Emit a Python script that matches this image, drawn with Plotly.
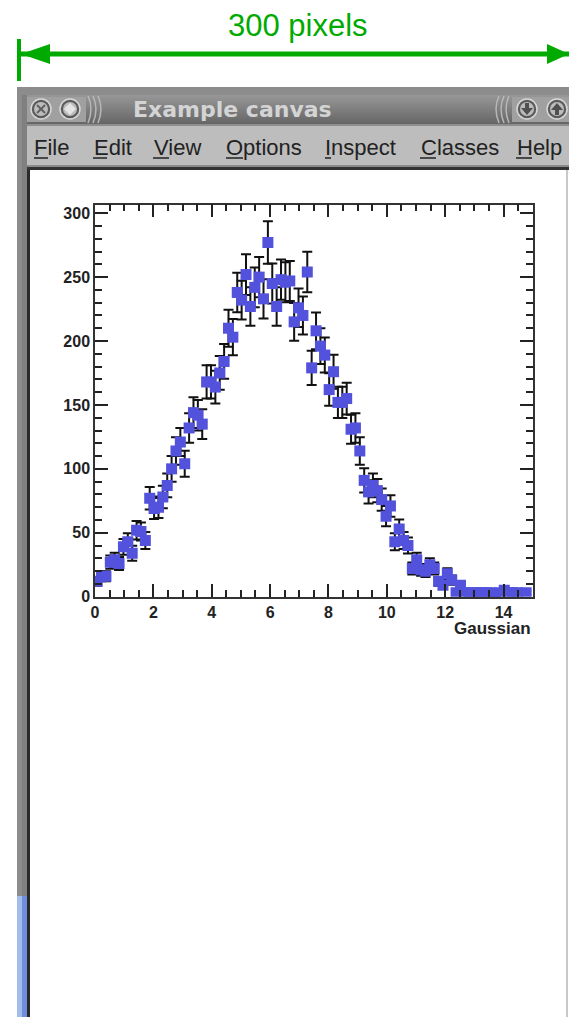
import plotly.graph_objects as go

bin_centres = [0.075,0.225,0.375,0.525,0.675,0.825,0.975,1.125,1.275,1.425,1.575,1.725,1.875,2.025,2.175,2.325,2.475,2.625,2.775,2.925,
3.075,3.225,3.375,3.525,3.675,3.825,3.975,4.125,4.275,4.425,4.575,4.725,4.875,5.025,5.175,5.325,5.475,5.625,5.775,5.925,
6.075,6.225,6.375,6.525,6.675,6.825,6.975,7.125,7.275,7.425,7.575,7.725,7.875,8.025,8.175,8.325,8.475,8.625,8.775,8.925,
9.075,9.225,9.375,9.525,9.675,9.825,9.975,10.125,10.275,10.425,10.575,10.725,10.875,11.025,11.175,11.325,11.475,11.625,11.775,11.925,
12.075,12.225,12.375,12.525,12.675,12.825,12.975,13.125,13.275,13.425,13.575,13.725,13.875,14.025,14.175,14.325,14.475,14.775]
counts = [12,16,16,27,29,26,39,43,34,52,51,44,77,69,70,78,87,100,114,121,
104,132,144,142,135,168,168,164,175,184,210,203,238,232,252,227,242,250,233,277,
245,227,248,246,247,215,226,220,254,179,208,196,189,162,176,152,152,155,131,132,
114,91,82,87,83,76,63,71,43,53,44,40,22,29,21,20,25,22,12,9,
18,13,3,9,3,3,3,3,3,3,3,2,3,5,3,3,3,3]
errors = [3.5,4,4,5.2,5.4,5.1,6.2,6.6,5.8,7.2,7.1,6.6,8.8,8.3,8.4,8.8,9.3,10,10.7,11,
10.2,11.5,12,11.9,11.6,13,13,12.8,13.2,13.6,14.5,14.2,15.4,15.2,15.9,15.1,15.6,15.8,15.3,16.6,
15.7,15.1,15.7,15.7,15.7,14.7,15,14.8,15.9,13.4,14.4,14,13.7,12.7,13.3,12.3,12.3,12.4,11.4,11.5,
10.7,9.5,9.1,9.3,9.1,8.7,7.9,8.4,6.6,7.3,6.6,6.3,4.7,5.4,4.6,4.5,5,4.7,3.5,3,
4.2,3.6,1.7,3,1.7,1.7,1.7,1.7,1.7,1.7,1.7,1.4,1.7,2.2,1.7,1.7,1.7,1.7]
x_ticks = [0,2,4,6,8,10,12,14]
y_ticks = [0,50,100,150,200,250,300]
menu_labels = ["File","Edit","View","Options","Inspect","Classes","Help"]
menu_x = [32,92,152,224,323,419,515]
menu_ul = [(34,48),(93,107),(153,169),(226,243),(325,331),(420,436),(516,532)]

W, H = 569, 1017
L, R, T, B = 95, 532.7, 204.5, 596.7

fig = go.Figure()
fig.add_trace(go.Scatter(x=[], y=[], showlegend=False))
fig.add_trace(go.Scatter(
    x=bin_centres, y=counts, mode="markers", showlegend=False, xaxis="x2", yaxis="y2",
    marker=dict(symbol="square", size=11, color="#5252dc", line=dict(width=0)),
    error_y=dict(type="data", array=errors, color="#111111", thickness=2, width=5),
))

shapes = []
def rect(x0, y0, x1, y1, c):
    shapes.append(dict(type="rect", xref="x", yref="y", x0=x0, y0=y0, x1=x1, y1=y1,
                       fillcolor=c, line=dict(width=0), layer="below"))
def line(x0, y0, x1, y1, c, w):
    shapes.append(dict(type="line", xref="x", yref="y", x0=x0, y0=y0, x1=x1, y1=y1,
                       line=dict(color=c, width=w), layer="below"))
def circ(cx, cy, r, c, lc=None, lw=0):
    shapes.append(dict(type="circle", xref="x", yref="y", x0=cx-r, y0=cy-r, x1=cx+r, y1=cy+r,
                       fillcolor=c, line=dict(width=lw, color=lc or c), layer="below"))
def poly(d, c):
    shapes.append(dict(type="path", xref="x", yref="y", layer="below", path=d, fillcolor=c, line=dict(width=0)))

# window frame
rect(17, 87, W, 1017, "#808080")
rect(17, 87, 22, 1017, "#8c8c8c")
rect(17, 896, 22, 1017, "#a4bcec")
rect(22, 896, 28, 1017, "#6f8fdc")
rect(17, 87, W, 95, "#8c8c8c")
rect(27, 168, 30, 1017, "#2a2a2a")
rect(27, 167, W, 170, "#333333")
rect(30, 170, W, 1017, "#ffffff")
rect(566, 170, 568, 1017, "#c8c8c8")
# title bar gradient
for k in range(29):
    g = 150 - k*50//29
    rect(27, 95+k, W, 96+k, f"rgb({g},{g},{g})")
rect(27, 124, W, 167, "#bdbdbd")
rect(27, 165, W, 167, "#8a8a8a")
rect(27, 124, W, 126, "#8e8e8e")
# button plates behind the round buttons
for x0, x1 in ((27, 86), (512, W)):
    rect(x0, 97, x1, 122, "#a0a0a0")
# window buttons
for cx in (41, 70, 527, 557):
    circ(cx, 109, 10, "#5c5c5c", "#d8d8d8", 1.5)
    circ(cx, 109, 7, "#bcbcbc")
line(37, 105, 45, 113, "#606060", 2)
line(37, 113, 45, 105, "#606060", 2)
poly("M 70 103 L 76 109 L 70 115 L 64 109 Z", "#e4e4e4")
poly("M 527 115 L 521 108 L 525 108 L 525 103 L 529 103 L 529 108 L 533 108 Z", "#505050")
poly("M 557 103 L 551 110 L 555 110 L 555 115 L 559 115 L 559 110 L 563 110 Z", "#505050")
for cx in (88, 93, 98):
    shapes.append(dict(type="path", xref="x", yref="y", layer="below",
                       path=f"M {cx} 96 Q {cx+6} 109 {cx} 123", line=dict(color="#b8b8b8", width=1.5)))
for cx in (509, 504, 499):
    shapes.append(dict(type="path", xref="x", yref="y", layer="below",
                       path=f"M {cx} 96 Q {cx-6} 109 {cx} 123", line=dict(color="#b8b8b8", width=1.5)))
# menu underlines
for a, b in menu_ul:
    line(a, 158, b, 158, "#222222", 1.5)
# green ruler
green = "#00aa00"
line(19, 39, 19, 81, green, 4)
line(21, 54, W, 54, green, 5)
poly("M 21 54 L 50 44 L 50 64 Z", green)
poly("M 569 54 L 547 44 L 547 64 Z", green)

ann = [
    dict(x=298, y=25, text="300 pixels", font=dict(family="Liberation Sans", size=31, color=green)),
    dict(x=232, y=109, text="<b>Example canvas</b>", font=dict(family="DejaVu Sans", size=22, color="#d4d4d4")),
    dict(x=533, y=628, xanchor="right", text="<b>Gaussian</b>", font=dict(family="Liberation Sans", size=17, color="#222222")),
]
for t, mx in zip(menu_labels, menu_x):
    ann.append(dict(x=mx, y=147, xanchor="left", text=t, font=dict(family="Liberation Sans", size=22, color="#222222")))
for a in ann:
    a.update(xref="x", yref="y", showarrow=False)
    a.setdefault("xanchor", "center")
    a["yanchor"] = "middle"

axcommon = dict(showgrid=False, zeroline=False, showline=True, linecolor="#333333", linewidth=1.5,
                mirror="ticks", ticks="inside", ticklen=13, tickwidth=1.6, tickcolor="#222222",
                tickfont=dict(family="Liberation Sans", size=16, color="#222222", weight=700),
                fixedrange=True, automargin=False)

fig.update_layout(
    width=W, height=H, margin=dict(l=0, r=0, t=0, b=0, pad=0, autoexpand=False), autosize=False,
    paper_bgcolor="#ffffff", plot_bgcolor="rgba(0,0,0,0)", showlegend=False,
    shapes=shapes, annotations=ann,
    xaxis2=dict(domain=[L/W, R/W], range=[0, 15], anchor="y2", tickmode="array", tickvals=x_ticks,
                minor=dict(dtick=0.5, ticks="inside", ticklen=7, tickwidth=1.6, tickcolor="#222222"),
                **axcommon),
    yaxis2=dict(domain=[1-B/H, 1-T/H], range=[0, 306.8], anchor="x2", tickmode="array", tickvals=y_ticks,
                minor=dict(dtick=10, ticks="inside", ticklen=7, tickwidth=1.6, tickcolor="#222222"),
                **axcommon),
    xaxis=dict(domain=[0, 1], range=[0, W], visible=False, anchor="y", fixedrange=True),
    yaxis=dict(domain=[0, 1], range=[H, 0], visible=False, anchor="x", fixedrange=True),
)

fig.write_html("out.html", config=dict(displayModeBar=False),
               post_script="document.body.style.margin='0';document.body.style.overflow='hidden';")
